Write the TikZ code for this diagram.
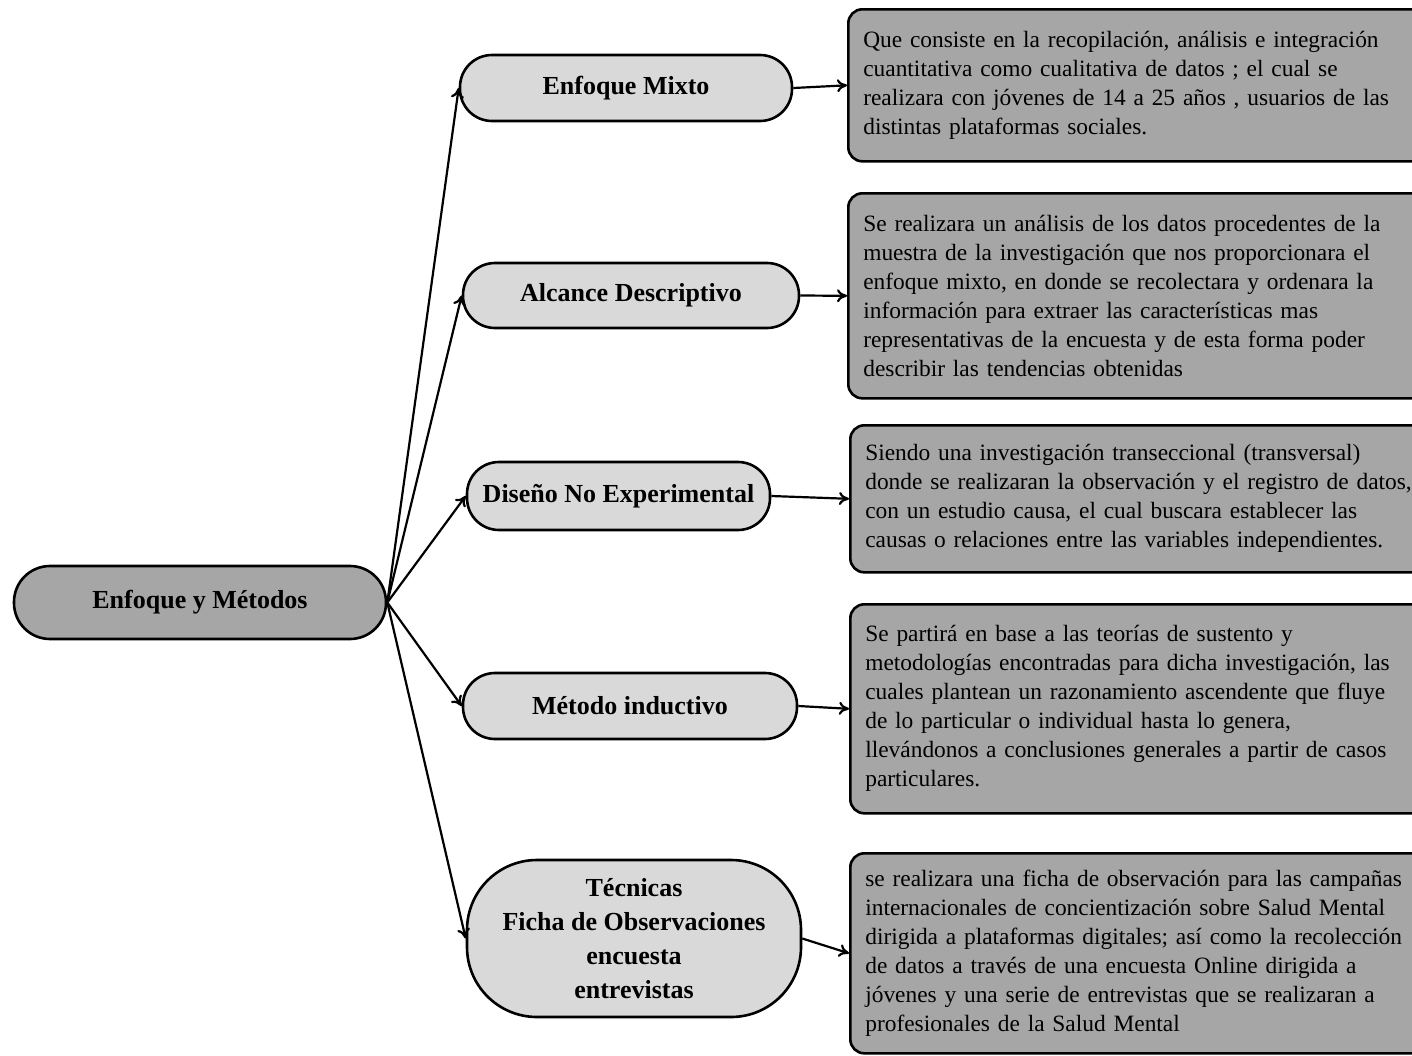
\documentclass[tikz,border=0pt]{standalone}
\usepackage{fontspec}
\setmainfont{Liberation Serif}
\usetikzlibrary{arrows.meta}
\definecolor{boxgray}{HTML}{A6A6A6}
\definecolor{lightbox}{HTML}{D9D9D9}
\begin{document}
\begin{tikzpicture}[x=1pt,y=-1pt,
  rootbox/.style={draw, line width=2.6pt, fill=boxgray, rounded corners=36pt,
    minimum width=372pt, minimum height=73pt, inner sep=0pt,
    font=\fontsize{26}{34}\selectfont\bfseries},
  midbox/.style={draw, line width=2.6pt, fill=lightbox, rounded corners=32pt,
    minimum height=66pt, inner sep=0pt, align=center,
    font=\fontsize{26}{34}\selectfont\bfseries},
  descbox/.style={draw, line width=2.6pt, fill=boxgray, rounded corners=14pt,
    anchor=north west, text width=570pt, inner xsep=15pt, inner ysep=0pt,
    align=left, font=\fontsize{23.4}{29}\selectfont},
  arr/.style={line width=2.2pt, -{To[length=10pt,width=13pt]}}
]
\useasboundingbox[fill=white] (0,0) rectangle (1412,1055);

\node[rootbox] (root) at (200,602.5) {Enfoque y Métodos};

\node[midbox, minimum width=332pt] (m1) at (626,88) {Enfoque Mixto};
\node[midbox, minimum width=336pt, minimum height=65pt] (m2) at (631,295.5) {Alcance Descriptivo};
\node[midbox, minimum width=303pt, minimum height=68pt] (m3) at (618.5,496) {Diseño No Experimental};
\node[midbox, minimum width=334pt] (m4) at (630,706) {Método inductivo};
\node[midbox, minimum width=334pt, minimum height=157pt, rounded corners=70pt] (m5) at (634,938.5)
  {Técnicas\\Ficha de Observaciones\\encuesta\\entrevistas};

\node[descbox, minimum height=152pt] (r1) at (847,8)
  {Que consiste en la recopilación, análisis e integración\\
   cuantitativa como cualitativa de datos ; el cual se\\
   realizara con jóvenes de 14 a 25 años , usuarios de las\\
   distintas plataformas sociales.};
\node[descbox, minimum height=205pt] (r2) at (847,192)
  {Se realizara un análisis de los datos procedentes de la\\
   muestra de la investigación que nos proporcionara el\\
   enfoque mixto, en donde se recolectara y ordenara la\\
   información para extraer las características mas\\
   representativas de la encuesta y de esta forma poder\\
   describir las tendencias obtenidas};
\node[descbox, minimum height=147pt] (r3) at (849,424)
  {Siendo una investigación transeccional (transversal)\\
   donde se realizaran la observación y el registro de datos,\\
   con un estudio causa, el cual buscara establecer las\\
   causas o relaciones entre las variables independientes.};
\node[descbox, minimum height=209pt] (r4) at (849,603)
  {Se partirá en base a las teorías de sustento y\\
   metodologías encontradas para dicha investigación, las\\
   cuales plantean un razonamiento ascendente que fluye\\
   de lo particular o individual hasta lo genera,\\
   llevándonos a conclusiones generales a partir de casos\\
   particulares.};
\node[descbox, minimum height=200pt] (r5) at (849,852)
  {se realizara una ficha de observación para las campañas\\
   internacionales de concientización sobre Salud Mental\\
   dirigida a plataformas digitales; así como la recolección\\
   de datos a través de una encuesta Online dirigida a\\
   jóvenes y una serie de entrevistas que se realizaran a\\
   profesionales de la Salud Mental};

\foreach \m in {m1,m2,m3,m4,m5}
  \draw[arr] (root.east) -- (\m.west);
\draw[arr] (m1.east) -- (r1.west);
\draw[arr] (m2.east) -- (r2.west);
\draw[arr] (m3.east) -- (r3.west);
\draw[arr] (m4.east) -- (r4.west);
\draw[arr] (m5.east) -- (r5.west);
\end{tikzpicture}
\end{document}
